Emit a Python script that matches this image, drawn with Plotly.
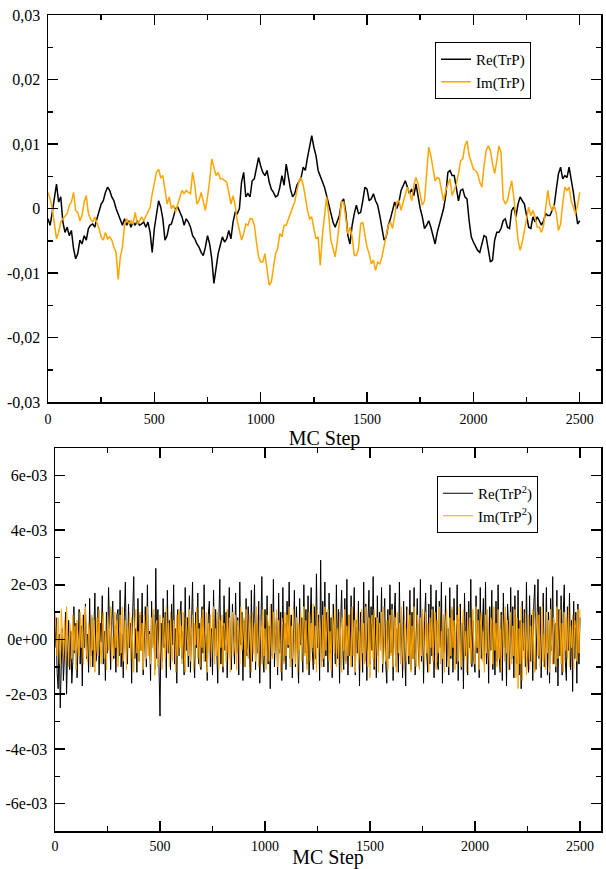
import plotly.graph_objects as go

# ---------------- data ----------------
# top panel: MC steps sampled every 10 steps, 0..2500
mc_step = list(range(0, 2501, 10))
# bottom panel: MC steps sampled every 5 steps, 0..2500
mc_step_fine = list(range(0, 2501, 5))

# top panel, units of 1e-3
re_trp = [
    -1.6, -2.6, -0.6, 1.8, 3.8, 1.0, 1.8, -2.1, -3.7, -2.9,
    -4.2, -3.4, -6.2, -7.8, -7.0, -4.9, -5.5, -4.2, -4.9, -3.1,
    -2.6, -2.4, -2.9, -1.6, -0.6, 0.7, 1.2, 2.5, 3.3, 2.8,
    1.8, 1.2, 0.0, -0.8, -1.9, -2.6, -1.6, -2.6, -1.9, -2.9,
    -2.1, -2.6, -1.9, -2.6, -2.4, -2.1, -2.9, -2.1, -3.7, -6.8,
    -3.1, -0.6, 1.2, 0.2, -1.6, -4.9, -4.2, -2.6, -2.4, -1.3,
    0.0, 0.2, -0.6, -1.3, -2.6, -1.6, -2.1, -2.9, -4.2, -4.7,
    -5.5, -6.0, -6.8, -7.3, -6.0, -4.2, -5.5, -7.8, -11.6, -8.8,
    -7.0, -5.7, -4.4, -5.2, -4.7, -3.4, -4.7, -2.1, -0.6, -0.8,
    0.0, 4.1, 5.6, 1.8, 2.3, 1.8, 4.3, 4.6, 6.1, 7.9,
    6.6, 5.6, 5.1, 5.9, 4.1, 3.0, 2.5, 1.8, 2.0, 3.3,
    5.1, 3.6, 6.9, 4.6, 3.0, 1.8, 2.3, 3.6, 4.3, 4.8,
    6.4, 5.9, 7.9, 9.7, 11.3, 9.5, 8.2, 5.9, 5.1, 4.1,
    3.3, 2.0, 0.5, -0.8, -2.1, -2.9, -2.1, -1.1, 1.0, 1.5,
    -0.6, -4.2, -5.5, -2.6, -0.8, 0.5, -0.8, -0.6, 1.2, 3.3,
    3.0, 1.2, 1.5, 2.3, 1.2, 0.5, -1.1, -2.9, -4.9, -4.4,
    -2.6, -1.6, -0.3, 1.0, 0.0, 1.0, 2.8, 3.6, 4.3, 3.3,
    2.3, 3.0, 2.0, 3.8, 1.8, 0.0, -1.3, -3.1, -2.6, -1.9,
    -2.9, -4.2, -5.5, -3.7, -2.4, -1.3, 0.0, 2.0, 5.6, 5.9,
    5.1, 5.1, 3.3, 1.2, 2.8, 3.0, 1.8, 1.5, -1.9, -4.4,
    -5.2, -6.0, -6.5, -6.8, -5.5, -4.2, -4.4, -6.2, -8.3, -8.0,
    -4.9, -3.7, -3.7, -3.1, -1.9, -1.6, -2.9, -3.1, -0.3, 0.2,
    -1.3, 0.7, 1.8, 1.2, 0.7, -1.1, -2.9, -3.1, -1.3, -2.1,
    -1.3, -1.9, -2.6, -1.9, -0.8, -1.1, -1.1, -0.3, 0.5, 3.0,
    5.4, 6.4, 4.6, 5.1, 4.8, 6.4, 4.6, 2.5, 0.0, -2.4,
    -1.9,
]
im_trp = [
    2.5, 1.5, 0.0, -2.6, -4.7, -3.7, -2.1, -1.6, -1.1, -0.8,
    0.5, 1.0, 2.5, -0.3, -0.6, -1.9, -1.1, 1.0, 2.0, -0.8,
    -1.6, -2.1, -1.3, -2.1, -3.1, -4.4, -4.9, -3.7, -4.7, -4.4,
    -4.9, -6.0, -6.8, -11.0, -7.5, -6.0, -2.6, -1.6, -2.4, -1.9,
    -2.4, -0.6, -2.4, -1.9, -1.3, -1.9, -1.1, -0.6, 0.2, 2.3,
    3.8, 5.6, 6.1, 4.8, 5.1, 2.8, 0.7, 1.8, 0.0, 0.5,
    -0.6, 0.7, 1.8, 2.8, 2.3, 2.8, 2.5, 2.3, 5.6, 3.6,
    0.7, 1.2, 2.5, 1.0, -0.3, 1.8, 4.3, 7.7, 6.6, 5.1,
    5.6, 4.6, 4.6, 4.3, 4.1, 2.5, 0.7, 2.0, 0.5, -1.9,
    -3.4, -4.9, -3.9, -2.4, -2.6, -1.6, -1.6, -2.6, -5.2, -7.5,
    -8.3, -8.3, -7.0, -9.8, -11.9, -11.4, -8.8, -7.0, -6.2, -3.9,
    -4.4, -2.6, -2.6, -1.6, -0.8, 0.2, 1.0, 2.8, 4.3, 4.8,
    3.6, 1.8, -0.3, -1.6, -1.3, -3.1, -4.7, -4.4, -8.8, -4.2,
    -0.6, 1.8, -1.1, -4.9, -6.2, -7.5, -5.2, -1.9, 1.0, 1.0,
    -1.9, -3.9, -2.9, -4.4, -7.3, -7.3, -6.2, -2.4, -2.1, -4.2,
    -6.0, -7.0, -8.6, -8.0, -9.6, -8.3, -8.6, -7.5, -5.7, -4.4,
    -2.6, -2.1, -3.1, -1.1, 1.0, 1.2, -0.3, 1.0, 2.3, 3.3,
    2.5, 1.2, 3.6, 4.8, 3.8, 2.3, 0.5, 1.2, 5.6, 9.5,
    8.2, 6.4, 4.3, 4.8, 4.6, 2.8, 1.2, 2.8, 3.8, 4.6,
    2.0, 3.0, 3.8, 5.4, 7.4, 7.7, 9.7, 10.5, 8.2, 7.2,
    6.1, 5.9, 5.4, 4.1, 3.3, 6.6, 9.0, 9.7, 9.0, 6.9,
    5.4, 7.4, 9.7, 8.7, 1.5, 0.7, 1.2, 2.8, 4.3, 1.8,
    -2.1, -4.9, -6.5, -5.2, -3.4, -1.3, 0.2, -1.1, -0.3, -1.3,
    -2.9, -2.9, -3.7, -2.6, 0.0, 2.8, 0.5, -0.3, 0.5, -0.8,
    -3.4, -2.4, 0.7, 3.3, 2.8, 3.3, 1.2, 0.0, -0.8, 0.5,
    2.5,
]

# bottom panel, units of 1e-4 (every 5 steps)
re_trp2 = [
    -3, 8, -12, -18, 2, -25, -9, 4, -15, -6, 10, -20, -4, 7, -11, 3, -16, -8, 12, -5,
    6, -14, -2, 11, -9, 5, -17, 9, -3, 13, -7, 2, -12, 15, -6, 8, -10, 4, 17, -8,
    -4, 12, -13, 6, -1, 16, -9, 3, -15, 10, -5, 19, -2, -11, 7, 14, -7, 5, -12, 9,
    11, -6, 18, -10, 2, -14, 8, 21, -5, -9, 13, -3, 6, -16, 10, 23, -7, 4, -12, 15,
    -8, 9, -4, 17, -13, 5, 12, -10, 20, -6, 3, -15, 14, -2, 9, -11, 26, -7, 11, -9,
    -28, 6, -8, 15, -3, 10, -14, 18, -5, 7, -11, 13, -2, 20, -9, 4, -16, 11, -6, 9,
    14, -7, 3, -13, 19, -4, 8, -10, 16, -12, 5, 21, -6, -14, 10, -3, 17, -9, 6, -11,
    12, -5, 20, -8, 2, -15, 9, 14, -10, 4, -13, 18, -6, 11, -3, -16, 7, 22, -9, 5,
    -12, 16, -4, 10, -14, 6, 19, -7, -11, 13, 3, -9, 17, -5, 8, -13, 21, -2, 10, -15,
    7, -10, 15, -6, 12, -3, -14, 18, -8, 4, 20, -11, 9, -5, 14, -16, 6, 23, -7, -12,
    11, -4, 16, -9, 5, -18, 13, -6, 22, -10, 3, 8, -13, 17, -5, 10, -15, 19, -8, 6,
    -11, 14, -3, 21, -7, 9, -14, 4, 18, -10, 12, -6, -16, 15, -2, 8, -12, 20, -5, 11,
    -9, 16, -13, 7, 19, -4, -11, 12, -7, 24, -3, 9, -15, 29, -8, 14, -10, 21, -6, 10,
    -12, 17, -5, 8, -14, 13, 3, -9, 20, -7, 11, -16, 6, 18, -4, -11, 15, -8, 22, -13,
    9, -6, 16, -10, 4, 19, -13, 7, -5, 14, -17, 10, 2, -12, 21, -8, 13, -15, 6, 18,
    -9, 12, -4, 23, -11, 8, -14, 16, -6, 10, -3, 19, -12, 5, 15, -9, -16, 11, -7, 20,
    -5, 13, -15, 8, 17, -10, 4, -12, 21, -6, 9, -14, 14, -3, -17, 12, 6, -9, 18, -11,
    10, -7, 19, -13, 5, 15, -4, -10, 22, -8, 11, -16, 7, 17, -5, -12, 13, -9, 20, -6,
    12, -14, 6, 18, -8, -11, 14, -3, 21, -16, 9, -5, 16, -10, 4, -13, 19, -7, 11, -12,
    15, -4, -9, 20, -15, 8, 13, -11, 6, -18, 17, -6, 10, -13, 14, -3, 22, -10, 7, -8,
    -12, 16, -5, 11, -14, 19, -7, 3, 15, -10, 21, -9, 8, -16, 12, -4, 18, -11, 6, -13,
    14, -8, 20, -6, -12, 10, -15, 17, -3, 9, -17, 13, 5, -11, 19, -7, 12, -14, 16, -5,
    -9, 18, -13, 7, -18, 14, -4, 11, -10, 21, -6, -12, 16, -8, 9, -15, 13, 20, -11, 5,
    22, -7, 12, -14, 8, 17, -10, -5, 19, -13, 10, -16, 15, -4, 23, -9, 6, -12, 18, -17,
    11, -6, 16, -13, 9, 20, -8, -15, 12, -4, 17, -11, 7, -19, 14, -7, 10, -16, 13, -9,
    8,
]
im_trp2 = [
    10, 4, -6, 8, -3, -9, 11, 2, -5, 7, -8, 12, -2, -10, 6, 3, -7, 9, -4, 5,
    -11, 7, 1, -6, 10, -3, 8, -9, 4, 12, -5, -8, 6, 2, -10, 9, -4, 7, -12, 3,
    8, -6, 11, -2, -9, 5, 10, -7, 3, -11, 9, -4, 6, 12, -8, 1, -6, 10, -3, 7,
    -10, 4, 9, -5, 12, -8, 2, 7, -11, 5, -3, 10, -7, 8, -2, -12, 6, 11, -5, 3,
    -8, 10, -4, 6, -11, 9, 3, -7, 12, -6, 2, -9, 8, -3, 11, -13, 5, 7, -10, 4,
    9, -5, -11, 8, 3, -7, 12, -4, 6, -10, 10, -2, -8, 7, 4, -12, 9, -6, 11, -3,
    5, -9, 10, -4, -12, 8, 2, -6, 11, -8, 3, 9, -11, 6, -2, 12, -7, 4, -10, 8,
    -3, 11, -8, 5, 10, -12, 6, -4, 9, -7, 2, 12, -9, 4, -6, 10, -11, 7, -3, 9,
    -10, 6, 3, -8, 11, -5, 8, -12, 4, 10, -6, -2, 9, -11, 7, 3, -9, 12, -4, 5,
    8, -10, 11, -3, -7, 9, 4, -12, 10, -5, 6, -8, 12, -2, -10, 7, 3, -9, 11, -6,
    4, -11, 9, 6, -8, 12, -3, -7, 10, -5, 2, 11, -10, 7, -4, -12, 8, 5, -9, 10,
    -6, 9, -2, 12, -10, 5, -7, 11, 3, -9, 8, -12, 6, -4, 10, -8, 2, 12, -6, 7,
    -11, 4, 10, -8, 6, -3, 13, -9, 5, -12, 11, -5, 8, 2, -10, 9, -7, 12, -4, 6,
    11, -8, 3, -11, 9, 6, -5, 12, -10, 4, -7, 10, 2, -12, 8, -4, 11, -9, 5, -6,
    9, -3, -10, 12, -6, 7, -12, 4, 10, -8, 3, -11, 11, -5, 6, -9, 12, -2, -10, 8,
    -14, 5, 9, -7, 11, -10, 3, 8, -12, 6, -4, 10, -9, 12, -3, -8, 7, -11, 4, 9,
    -6, 11, -10, 3, 8, -12, 10, -5, 6, -9, 12, -3, -11, 7, 4, -8, 11, -6, 9, -12,
    5, -7, 12, -4, -10, 9, 3, -11, 8, -6, 11, -2, -9, 10, -5, 6, -12, 8, -3, 11,
    -8, 4, 10, -11, 7, -5, 12, -9, 3, -7, 9, -12, 6, 11, -4, -10, 8, -6, 12, -3,
    7, -11, 5, 9, -8, 12, -4, -10, 6, 11, -7, 3, -12, 10, -5, 8, -9, 4, 11, -6,
    -9, 12, -3, 7, -11, 5, 10, -8, 3, -12, 9, -5, 11, -2, -10, 8, 6, -9, 12, -4,
    6, -10, 11, -7, 4, -12, 9, 2, -8, 12, -5, 7, -11, 3, 10, -9, 5, -6, 11, -14,
    8, -18, 4, -9, 12, -15, 6, -7, 10, -13, 3, 9, -11, 5, -8, 11, -4, -12, 7, 10,
    -6, 9, -10, 4, 12, -8, 2, -11, 10, -5, 7, -12, 11, -3, -9, 8, 5, -10, 12, -7,
    3, 11, -9, 6, -12, 10, -4, 8, -7, 12, -10, 5, -3, 9, -11, 7, 4, -8, 11, -5,
    11,
]

top_ytickvals = [-0.03, -0.02, -0.01, 0.0, 0.01, 0.02, 0.03]
top_yticktext = ["-0,03", "-0,02", "-0,01", "0", "0,01", "0,02", "0,03"]
bot_ytickvals = [-6e-3, -4e-3, -2e-3, 0.0, 2e-3, 4e-3, 6e-3]
bot_yticktext = ["-6e-03", "-4e-03", "-2e-03", "0e+00", "2e-03", "4e-03", "6e-03"]
xtickvals = [0, 500, 1000, 1500, 2000, 2500]

# ---------------- figure ----------------
W, H = 606, 869
FONT = "Liberation Serif, Times New Roman, serif"
ORANGE = "#ffa500"

fig = go.Figure()
fig.add_trace(go.Scatter(x=mc_step, y=[v * 1e-3 for v in re_trp], mode="lines",
                         line=dict(color="black", width=1.5), name="Re(TrP)",
                         xaxis="x", yaxis="y", legend="legend"))
fig.add_trace(go.Scatter(x=mc_step, y=[v * 1e-3 for v in im_trp], mode="lines",
                         line=dict(color=ORANGE, width=1.5), name="Im(TrP)",
                         xaxis="x", yaxis="y", legend="legend"))
fig.add_trace(go.Scatter(x=mc_step_fine, y=[v * 1e-4 for v in re_trp2], mode="lines",
                         line=dict(color="black", width=1), name="Re(TrP<sup>2</sup>)",
                         xaxis="x2", yaxis="y2", legend="legend2"))
fig.add_trace(go.Scatter(x=mc_step_fine, y=[v * 1e-4 for v in im_trp2], mode="lines",
                         line=dict(color=ORANGE, width=1), name="Im(TrP<sup>2</sup>)",
                         xaxis="x2", yaxis="y2", legend="legend2"))

def px_x(a, b):
    return [a / W, b / W]

def px_y(top, bottom):
    return [1 - bottom / H, 1 - top / H]

axis_common = dict(
    showline=True, linecolor="black", linewidth=1.5, mirror="allticks",
    ticks="inside", ticklen=10, tickwidth=1.5, tickcolor="black",
    showgrid=False, zeroline=False, automargin=False,
)
xfont = dict(family=FONT, size=14, color="black")
yfont = dict(family=FONT, size=16, color="black")

xminor = dict(tickvals=[250, 750, 1250, 1750, 2250], ticklen=5, tickwidth=1.5,
              tickcolor="black", ticks="inside", showgrid=False)

fig.update_layout(
    template="none",
    width=W, height=H, autosize=False,
    margin=dict(l=0, r=0, t=0, b=0, pad=0),
    paper_bgcolor="white", plot_bgcolor="white",
    font=dict(family=FONT, color="black"),
    showlegend=True, hovermode=False,
    xaxis=dict(axis_common, domain=px_x(48, 601), anchor="y", range=[0, 2600],
               tickvals=xtickvals, ticktext=[str(v) for v in xtickvals],
               tickfont=xfont, minor=xminor, ticklabelstandoff=4,
               title=dict(text="MC Step", font=dict(family=FONT, size=20), standoff=2)),
    yaxis=dict(axis_common, domain=px_y(15, 402), anchor="x", range=[-0.03, 0.03],
               tickvals=top_ytickvals, ticktext=top_yticktext, tickfont=yfont,
               ticklabelstandoff=3,
               minor=dict(tickvals=[-0.025, -0.015, -0.005, 0.005, 0.015, 0.025],
                          ticklen=5, tickwidth=1.5, tickcolor="black", ticks="inside",
                          showgrid=False)),
    xaxis2=dict(axis_common, domain=px_x(55, 601), anchor="y2", range=[0, 2600],
                tickvals=xtickvals, ticktext=[str(v) for v in xtickvals],
                tickfont=xfont, minor=xminor, ticklabelstandoff=2,
                title=dict(text="MC Step", font=dict(family=FONT, size=20), standoff=0)),
    yaxis2=dict(axis_common, domain=px_y(448, 831), anchor="x2", range=[-7e-3, 7e-3],
                tickvals=bot_ytickvals, ticktext=bot_yticktext, tickfont=yfont,
                ticklabelstandoff=3,
                minor=dict(tickvals=[-5e-3, -3e-3, -1e-3, 1e-3, 3e-3, 5e-3],
                           ticklen=5, tickwidth=1.5, tickcolor="black", ticks="inside",
                           showgrid=False)),
    legend=dict(x=435 / W, y=1 - 42 / H, xanchor="left", yanchor="top",
                bgcolor="white", bordercolor="black", borderwidth=1,
                font=dict(family=FONT, size=15, color="black"),
                itemwidth=30, tracegroupgap=0),
    legend2=dict(x=437 / W, y=1 - 476 / H, xanchor="left", yanchor="top",
                 bgcolor="white", bordercolor="black", borderwidth=1,
                 font=dict(family=FONT, size=15, color="black"),
                 itemwidth=30, tracegroupgap=0),
)

fig.write_html("out.html", config={"displayModeBar": False, "staticPlot": True},
               post_script="document.body.style.margin='0px';")
